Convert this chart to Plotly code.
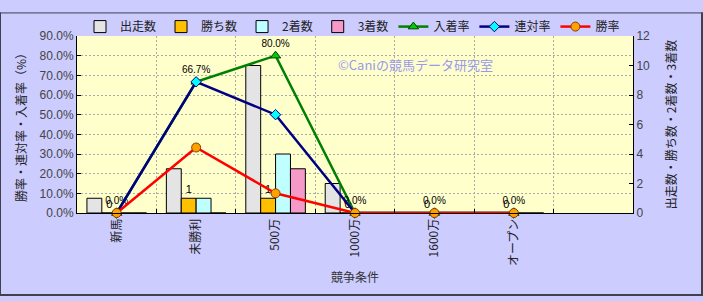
import plotly.graph_objects as go

categories = ["新馬", "未勝利", "500万", "1000万", "1600万", "オープン", " "]
starts = [1, 3, 10, 2, 0, 0, None]
wins = [0, 1, 1, 0, 0, 0, None]
seconds = [0, 1, 4, 0, 0, 0, None]
thirds = [0, 0, 3, 0, 0, 0, None]
place_rate = [0.0, 66.7, 80.0, 0.0, 0.0, 0.0, None]
quinella_rate = [0.0, 66.7, 50.0, 0.0, 0.0, 0.0, None]
win_rate = [0.0, 33.3, 10.0, 0.0, 0.0, 0.0, None]

FONT = "Liberation Sans, Noto Sans CJK JP, sans-serif"
JFONT = "Noto Sans CJK JP, sans-serif"

fig = go.Figure()

bar_specs = [
    ("出走数", starts, "#E4E4E4", False),
    ("勝ち数", wins, "#FFC000", True),
    ("2着数", seconds, "#C0FFFF", False),
    ("3着数", thirds, "#F59AC8", False),
]
for name, vals, col, lab in bar_specs:
    kw = {}
    if lab:
        kw = dict(text=[("" if v is None else str(v)) for v in vals],
                  textposition="outside", textfont=dict(size=11, color="#000000", family=FONT),
                  cliponaxis=False)
    fig.add_trace(go.Bar(name=name, x=categories, y=vals, yaxis="y",
                         marker=dict(color=col, line=dict(color="#000000", width=1)), **kw))

fig.add_trace(go.Scatter(name="入着率", x=categories, y=place_rate, yaxis="y2", mode="lines+markers+text",
                         line=dict(color="#008000", width=2.5),
                         marker=dict(symbol="triangle-up", size=9, color="#00CC00", line=dict(color="#004000", width=1)),
                         text=[("" if v is None else f"{v:.1f}%") for v in place_rate],
                         textposition="top center", textfont=dict(size=10, color="#000000", family=FONT),
                         cliponaxis=False))
fig.add_trace(go.Scatter(name="連対率", x=categories, y=quinella_rate, yaxis="y2", mode="lines+markers",
                         line=dict(color="#000080", width=2.5),
                         marker=dict(symbol="diamond", size=8, color="#00FFFF", line=dict(color="#000080", width=1)),
                         cliponaxis=False))
fig.add_trace(go.Scatter(name="勝率", x=categories, y=win_rate, yaxis="y2", mode="lines+markers",
                         line=dict(color="#FF0000", width=2.5),
                         marker=dict(symbol="circle", size=9, color="#FFA000", line=dict(color="#804000", width=1)),
                         cliponaxis=False))

L, R, T, B = 77, 70, 25, 88
W, H = 703, 301
pw, ph = W - L - R, H - T - B

def px(x):
    return (x - L) / pw

def py(y):
    return (H - B - y) / ph

shapes = [
    dict(type="line", xref="paper", yref="paper", x0=px(0.5), x1=px(0.5), y0=py(0), y1=py(301), line=dict(color="#404050", width=1)),
    dict(type="line", xref="paper", yref="paper", x0=px(0), x1=px(703), y0=py(0.5), y1=py(0.5), line=dict(color="#404050", width=1)),
    dict(type="line", xref="paper", yref="paper", x0=px(702), x1=px(702), y0=py(0), y1=py(301), line=dict(color="#404050", width=2)),
    dict(type="line", xref="paper", yref="paper", x0=px(0), x1=px(703), y0=py(300), y1=py(300), line=dict(color="#404050", width=2)),
]

fig.update_layout(
    width=W, height=H,
    margin=dict(l=L, r=R, t=T, b=B, pad=0),
    paper_bgcolor="#CCCCFF",
    plot_bgcolor="#FFFFCC",
    barmode="group", bargap=0.25, bargroupgap=0,
    font=dict(family=FONT, size=11, color="#333333"),
    showlegend=True,
    legend=dict(orientation="h", x=px(80), y=py(15), xanchor="left", yanchor="middle",
                bgcolor="rgba(0,0,0,0)", font=dict(family=JFONT, size=12, color="#222222"),
                itemwidth=30, tracegroupgap=0, traceorder="normal"),
    xaxis=dict(type="category", categoryorder="array", categoryarray=categories,
               tickson="boundaries", showgrid=True, gridcolor="#AAAAAA", griddash="2px,2px", gridwidth=1,
               tickangle=-90, ticks="inside", ticklen=4, tickcolor="#000000",
               showline=True, linecolor="#000000", linewidth=1,
               tickfont=dict(family=JFONT, size=12, color="#222222"),
               title=dict(text="競争条件", font=dict(family=JFONT, size=12, color="#333333"), standoff=8),
               range=[-0.5, 6.5]),
    yaxis=dict(side="right", range=[0, 12], dtick=2, showgrid=False, zeroline=False,
               ticks="inside", ticklen=4, tickcolor="#000000",
               showline=True, linecolor="#000000", linewidth=1, mirror=False,
               tickfont=dict(family=FONT, size=12, color="#444444"),
               title=dict(text="出走数・勝ち数・2着数・3着数", font=dict(family=JFONT, size=12, color="#222222"), standoff=18)),
    yaxis2=dict(side="left", overlaying="y", range=[0, 90], dtick=10, ticksuffix="%", tickformat=".1f",
                showgrid=True, gridcolor="#AAAAAA", griddash="2px,2px", gridwidth=1, zeroline=False,
                ticks="inside", ticklen=4, tickcolor="#000000",
                showline=True, linecolor="#000000", linewidth=1,
                tickfont=dict(family=FONT, size=12, color="#444444"),
                title=dict(text="勝率・連対率・入着率（%）", font=dict(family=JFONT, size=12, color="#222222"), standoff=10)),
    shapes=shapes,
    annotations=[dict(text="©Caniの競馬データ研究室", xref="paper", yref="paper", x=px(495), y=py(43),
                      showarrow=False, font=dict(family=JFONT, size=13, color="#9999EE"))],
)

fig.write_html("out.html")
